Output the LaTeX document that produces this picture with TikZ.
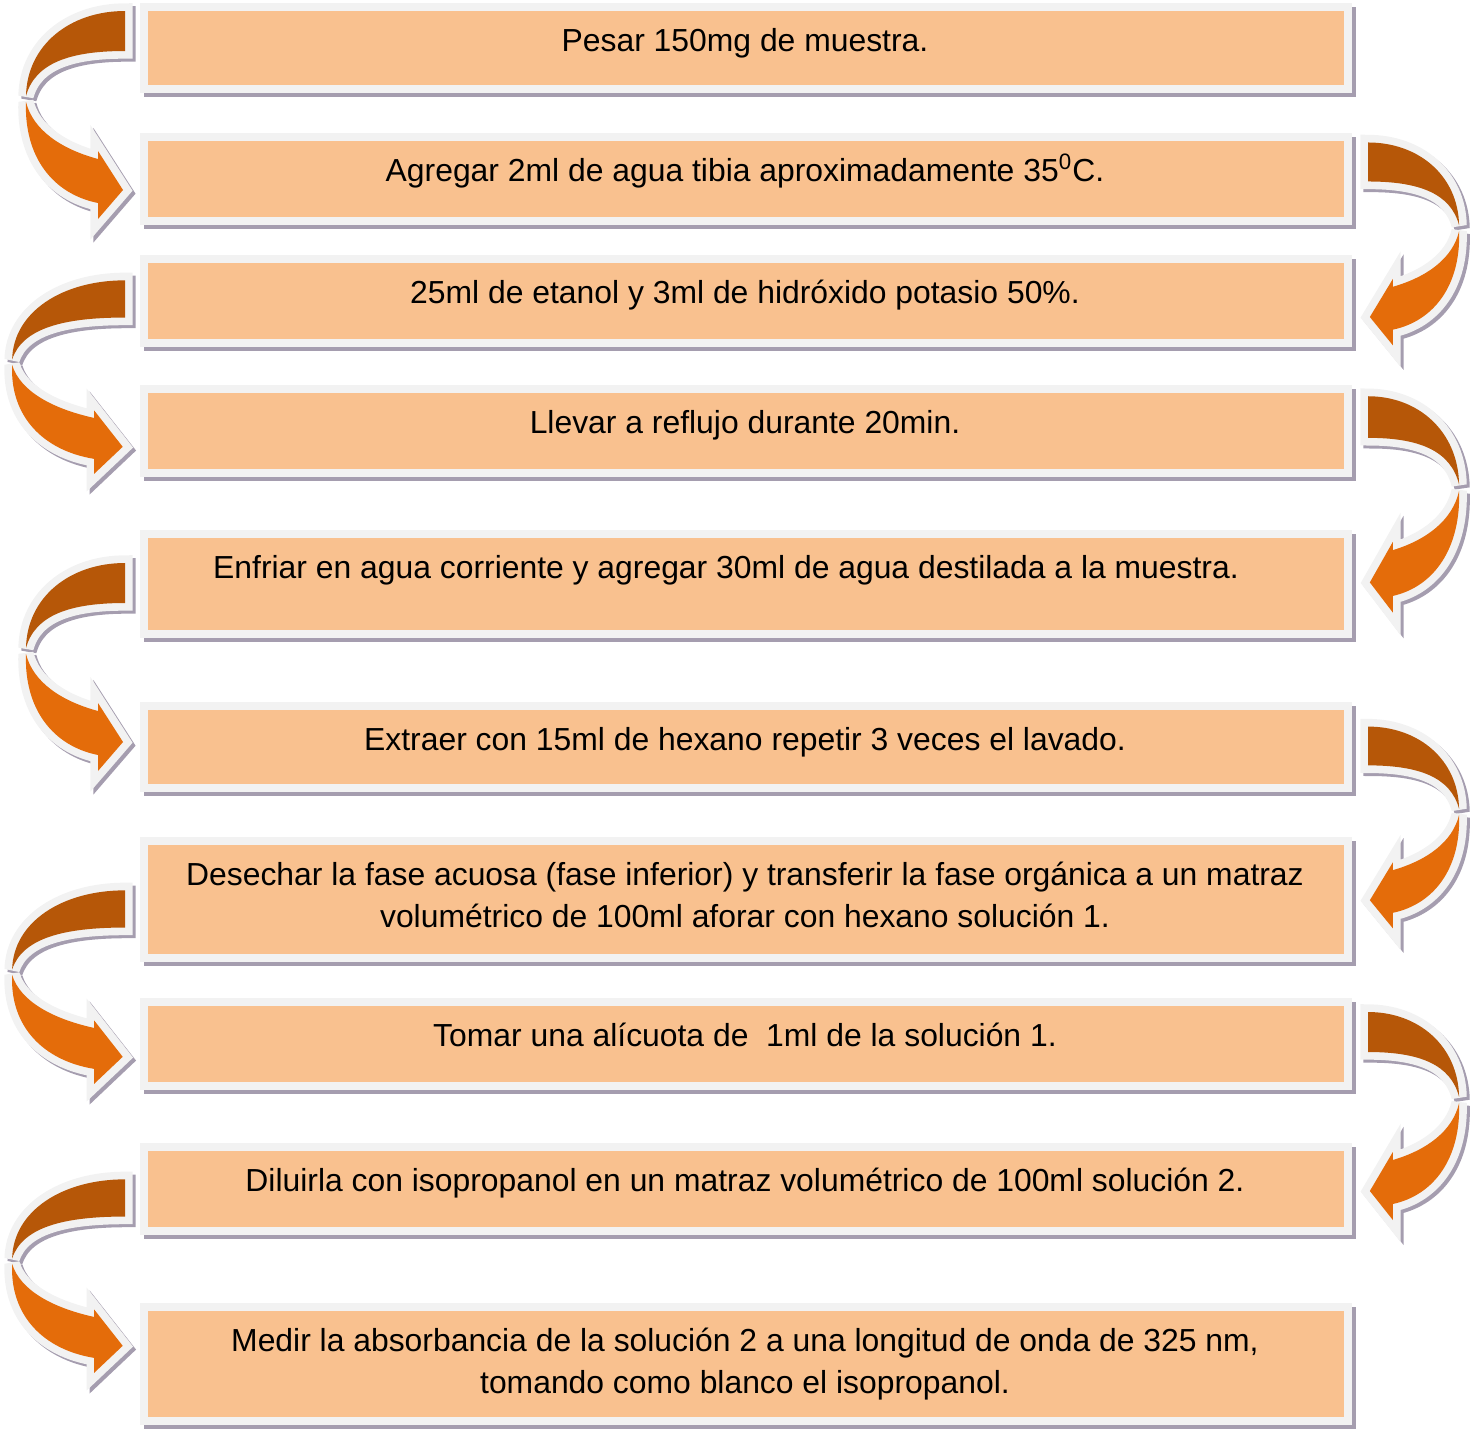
\documentclass[tikz,border=0pt]{standalone}
\usepackage{fontspec}
\setmainfont{Liberation Sans}
\usetikzlibrary{calc}
\definecolor{salmon}{HTML}{F9C18F}
\definecolor{marco}{HTML}{F2F2F2}
\definecolor{sombra}{HTML}{A59DAF}
\definecolor{cafe}{HTML}{B65708}
\definecolor{naranja}{HTML}{E46C0A}

\tikzset{
  paso/.style={draw=marco, fill=salmon, line width=0.12cm, minimum width=18.06cm,
    preaction={draw=sombra, fill=sombra, transform canvas={xshift=0.06cm, yshift=-0.06cm}}},
  texto/.style={anchor=north, inner sep=0pt, align=center, font=\fontsize{13.6}{17.9}\selectfont},
  cola/.style={insert path={(0,-19) .. controls (-55,-19) and (-98,15) .. (-99,66)
    .. controls (-90,33) and (-55,21) .. (0,21) -- cycle}},
  punta/.style={insert path={(-99,72) .. controls (-101,127) and (-72,164) .. (-27,173)
    -- (-27,189) -- (-2,160) -- (-27,121) -- (-27,129)
    .. controls (-64,119) and (-92,100) .. (-99,72) -- cycle}}
}

% curved arrow: x, y of the tail, xscale, yscale
\newcommand{\flecha}[4]{%
  \foreach \desp/\capa in {3/sombra,0/marco}{
    \filldraw[draw=\capa, fill=\capa, line width=0.23cm, miter limit=2,
      shift={(#1+\desp,#2+\desp)}, xscale=#3, yscale=#4, cola];
    \filldraw[draw=\capa, fill=\capa, line width=0.23cm, miter limit=4,
      shift={(#1+\desp,#2+\desp)}, xscale=#3, yscale=#4, punta];
  }
  \fill[cafe, shift={(#1,#2)}, xscale=#3, yscale=#4, cola];
  \fill[naranja, shift={(#1,#2)}, xscale=#3, yscale=#4, punta];
}

\begin{document}
\begin{tikzpicture}[x=0.015cm, y=-0.015cm]
  \useasboundingbox (0,0) rectangle (1479,1429);
  %the boxes
  \node[paso, minimum height=1.23cm] (p1) at (746,48) {};
  \node[paso, minimum height=1.26cm] (p2) at (746,179) {};
  \node[paso, minimum height=1.26cm] (p3) at (746,301) {};
  \node[paso, minimum height=1.26cm] (p4) at (746,431) {};
  \node[paso, minimum height=1.5cm] (p5) at (746,584) {};
  \node[paso, minimum height=1.23cm] (p6) at (746,747) {};
  \node[paso, minimum height=1.755cm] (p7) at (746,899.5) {};
  \node[paso, minimum height=1.26cm] (p8) at (746,1044) {};
  \node[paso, minimum height=1.26cm] (p9) at (746,1189) {};
  \node[paso, minimum height=1.71cm] (p10) at (746,1364) {};
  %the texts
  \node[texto] (t1) at ([shift={(-1,18.6)}]p1.north) {\strut Pesar 150mg de muestra.};
  \node[texto] (t2) at ([shift={(-1,18.6)}]p2.north) {\strut Agregar 2ml de agua tibia aproximadamente 35\textsuperscript{0}C.};
  \node[texto] (t3) at ([shift={(-1,18.6)}]p3.north) {\strut 25ml de etanol y 3ml de hidróxido potasio 50\%.};
  \node[texto] (t4) at ([shift={(-1,18.6)}]p4.north) {\strut Llevar a reflujo durante 20min.};
  \node[texto] (t5) at ([shift={(-20,18.6)}]p5.north) {\strut Enfriar en agua corriente y agregar 30ml de agua destilada a la muestra.};
  \node[texto] (t6) at ([shift={(-1,18.6)}]p6.north) {\strut Extraer con 15ml de hexano repetir 3 veces el lavado.};
  \node[texto] (t7) at ([shift={(-1,18.6)}]p7.north) {\strut Desechar la fase acuosa (fase inferior) y transferir la fase orgánica a un matraz\\
    volumétrico de 100ml aforar con hexano solución 1.};
  \node[texto] (t8) at ([shift={(-1,18.6)}]p8.north) {\strut Tomar una alícuota de~ 1ml de la solución 1.};
  \node[texto] (t9) at ([shift={(-1,18.6)}]p9.north) {\strut Diluirla con isopropanol en un matraz volumétrico de 100ml solución 2.};
  \node[texto] (t10) at ([shift={(-1,18.6)}]p10.north) {\strut Medir la absorbancia de la solución 2 a una longitud de onda de 325 nm,\\
    tomando como blanco el isopropanol.};
  %the arrows, left side
  \flecha{125}{30}{1}{1}
  \flecha{125}{298}{1.14}{0.93}
  \flecha{125}{582}{1}{1}
  \flecha{125}{908}{1.14}{0.93}
  \flecha{125}{1197}{1.14}{0.93}
  %the arrows, right side
  \flecha{1368}{161}{-0.92}{0.975}
  \flecha{1368}{416}{-0.92}{1.04}
  \flecha{1368}{745}{-0.92}{0.97}
  \flecha{1368}{1031}{-0.92}{1}
\end{tikzpicture}
\end{document}
